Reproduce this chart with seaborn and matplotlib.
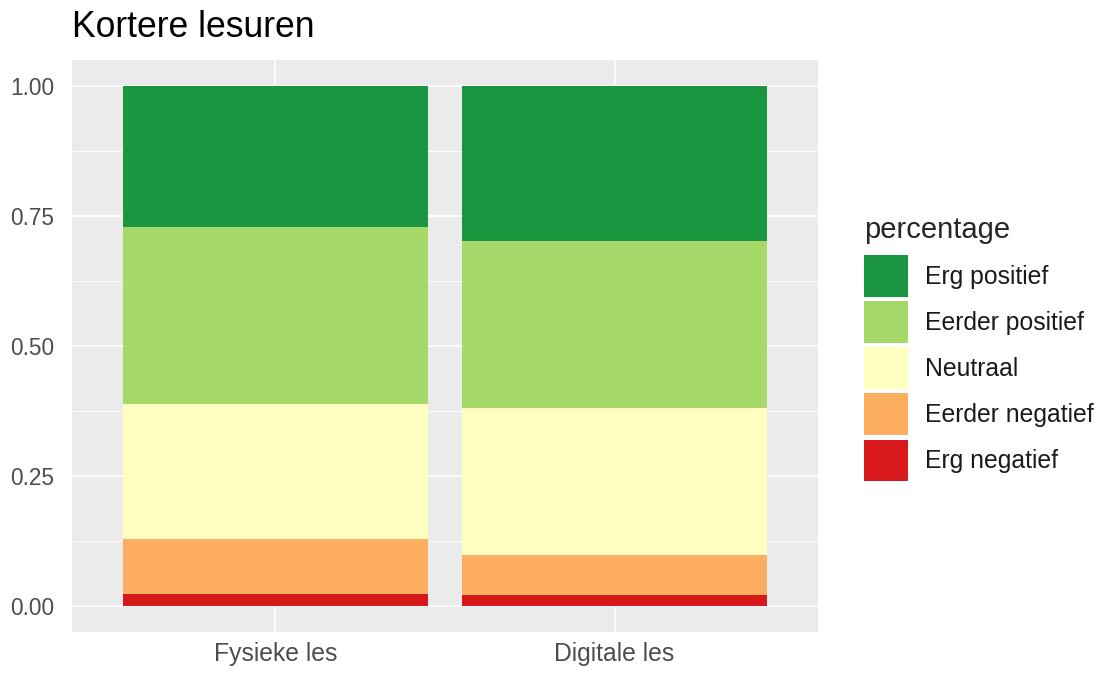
import numpy as np
import pandas as pd
import seaborn as sns
import matplotlib.pyplot as plt
from matplotlib.patches import Patch
from matplotlib.ticker import MultipleLocator

# aandeel per antwoord, per lesvorm
lesvormen = ["Fysieke les", "Digitale les"]
categorieen = ["Erg negatief", "Eerder negatief", "Neutraal", "Eerder positief", "Erg positief"]
fysiek = [0.024, 0.105, 0.259, 0.341, 0.271]
digitaal = [0.021, 0.077, 0.283, 0.321, 0.298]
kleuren = ["#D7191C", "#FDAE61", "#FFFFBF", "#A6D96A", "#1A9641"]

df = pd.DataFrame({"Fysieke les": fysiek, "Digitale les": digitaal}, index=categorieen)
cum = df.cumsum()

sns.set_theme(style="darkgrid")
plt.rcParams['font.family'] = ['Liberation Sans', 'DejaVu Sans']

fig = plt.figure(figsize=(11, 6.73), dpi=100)
ax = fig.add_axes([0.0655, 0.0609, 0.6781, 0.8501])
ax.set_facecolor("#EBEBEB")

# gestapelde balken: hoogste cumulatief eerst tekenen
for cat, kleur in zip(categorieen[::-1], kleuren[::-1]):
    d = pd.DataFrame({"les": lesvormen, "waarde": cum.loc[cat, lesvormen].values})
    sns.barplot(data=d, x="les", y="waarde", color=kleur, width=0.9,
                saturation=1, ax=ax, linewidth=0, zorder=3)

ax.set_xlim(-0.6, 1.6)
ax.set_ylim(-0.05, 1.05)
ax.yaxis.set_major_locator(MultipleLocator(0.25))
ax.yaxis.set_minor_locator(MultipleLocator(0.125))
ax.set_yticks([0, 0.25, 0.5, 0.75, 1.0])
ax.set_yticklabels(["0.00", "0.25", "0.50", "0.75", "1.00"])
ax.grid(which="major", color="white", linewidth=1.2, zorder=0)
ax.grid(which="minor", axis="y", color="white", linewidth=0.6, zorder=0)
ax.set_axisbelow(True)
for s in ax.spines.values():
    s.set_visible(False)
ax.tick_params(axis="both", which="major", length=4, width=0.8, color="#333333",
               labelcolor="#4D4D4D")
ax.tick_params(axis="y", labelsize=16.3, pad=9)
ax.tick_params(axis="x", labelsize=17.8, pad=3.5)
ax.tick_params(axis="both", which="minor", length=0)
ax.set_xlabel("")
ax.set_ylabel("")

fig.text(0.0655, 1 - 37 / 673, "Kortere lesuren", fontsize=25.6, color="black", va="baseline")

handles = [Patch(facecolor=k, edgecolor="none") for k in kleuren[::-1]]
leg = fig.legend(handles, categorieen[::-1], title="percentage",
                 loc="upper left", bbox_to_anchor=(0.7855, 0.679),
                 frameon=False, fontsize=17.8, title_fontsize=21,
                 handlelength=1.78, handleheight=2.21, labelspacing=0.18,
                 handletextpad=0.69, borderaxespad=0, borderpad=0)
leg._legend_box.align = "left"
leg._legend_box.sep = leg._legend_box.sep + 5  # wat meer ruimte onder de titel
for t in leg.get_texts():
    t.set_color("#1A1A1A")

fig.savefig("out.png", dpi=100)
